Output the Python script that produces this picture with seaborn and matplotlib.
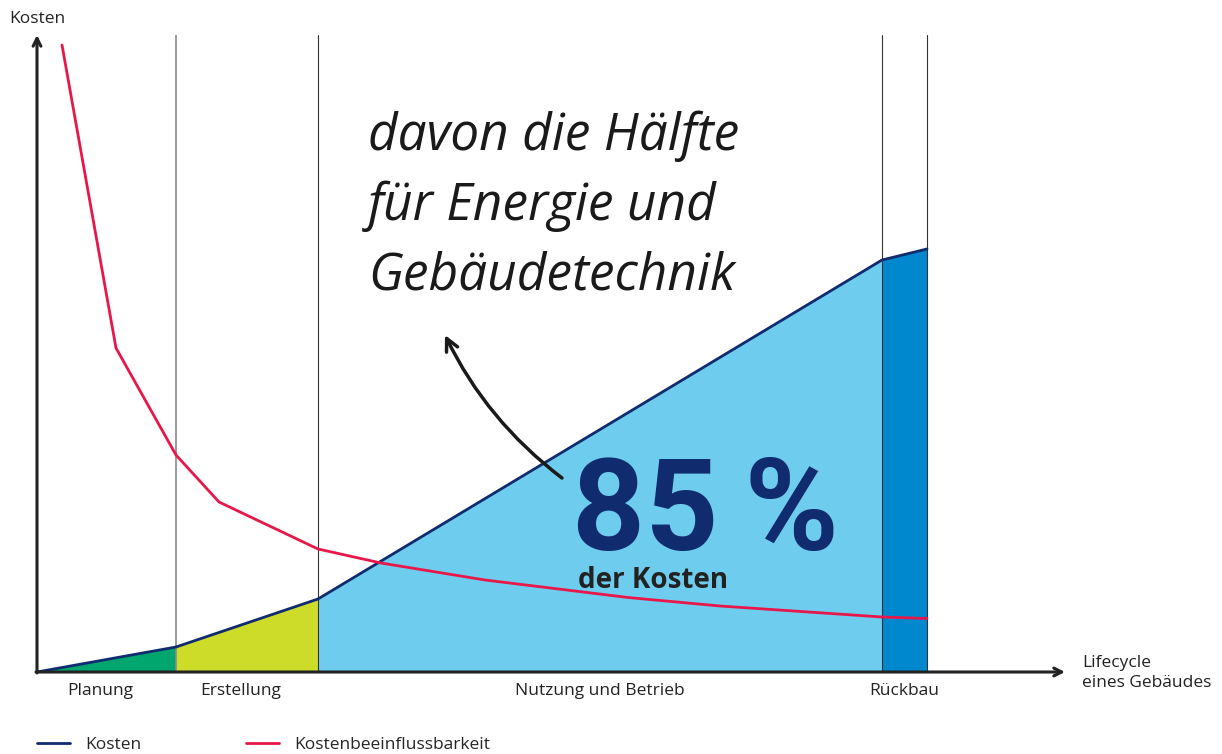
import pandas as pd
import matplotlib.pyplot as plt
import seaborn as sns

# === Daten
phasen = ["Planung", "Erstellung", "Nutzung und Betrieb", "Rückbau"]
phasen_grenzen = [0, 13.9, 28.1, 84.5, 89.0]
kosten = [0, 2.5, 7.3, 41.2, 42.3]
einfluss_x = [2.5, 7.9, 13.9, 18.2, 28.1, 34.4, 44.8, 59.1, 68.3, 84.5, 89.0]
einfluss_y = [62.7, 32.4, 21.7, 17.0, 12.3, 10.9, 9.2, 7.45, 6.6, 5.5, 5.35]

phasen_farben = ["#00a66e", "#cddc29", "#6ecdee", "#0088cf"]
navy = "#112b6f"
rot = "#e8174a"

# === Stil
sns.set_theme(style="white")
plt.rcParams["font.family"] = ["Open Sans", "DejaVu Sans"]
fs = 12.5

fig = plt.figure(figsize=(12.22, 7.54), dpi=100)
W, H = 1222, 754
ax = fig.add_axes([37 / W, (H - 672) / H, (1065 - 37) / W, (672 - 35) / H])
ax.set_xlim(0, 102.8)
ax.set_ylim(0, 63.7)

# Flächen je Phase
for i, farbe in enumerate(phasen_farben):
    ax.fill_between(phasen_grenzen[i:i + 2], kosten[i:i + 2], color=farbe, lw=0, zorder=1)

# Phasengrenzen
for i, gx in enumerate(phasen_grenzen[1:]):
    ax.axvline(gx, color="#8a8a8a" if i == 0 else "#333333", lw=1.2 if i == 0 else 0.8, zorder=2)

# Linien
df = pd.concat([
    pd.DataFrame({"x": phasen_grenzen, "y": kosten, "Reihe": "Kosten"}),
    pd.DataFrame({"x": einfluss_x, "y": einfluss_y, "Reihe": "Kostenbeeinflussbarkeit"}),
])
sns.lineplot(data=df, x="x", y="y", hue="Reihe", palette=[navy, rot], sort=False,
             estimator=None, lw=2, ax=ax, zorder=3)

# Achsen mit Pfeilen
for s in ax.spines.values():
    s.set_visible(False)
pfeil = dict(arrowstyle="->", lw=2.2, color="#222222", shrinkA=0, shrinkB=0, mutation_scale=14)
ax.annotate("", xy=(102.8, 0), xytext=(-0.1, 0), arrowprops=pfeil, zorder=5)
ax.annotate("", xy=(0, 63.7), xytext=(0, -0.1), arrowprops=pfeil, zorder=5)

mitten = [(a + b) / 2 for a, b in zip(phasen_grenzen[:-1], phasen_grenzen[1:])]
mitten[0] -= 0.6
mitten[1] -= 0.6
ax.set_xticks(mitten)
ax.set_xticklabels(phasen, fontsize=fs, color="#222222")
ax.tick_params(axis="x", length=0, pad=8)
ax.set_yticks([])
ax.set_xlabel("")
ax.set_ylabel("")

fig.text(9 / W, 1 - 19 / H, "Kosten", fontsize=fs, color="#222222", va="center", ha="left")
fig.text(1082 / W, 1 - 673 / H, "Lifecycle\neines Gebäudes", fontsize=fs, color="#222222",
         va="center", ha="left", linespacing=1.3)

# Texte im Diagramm
ax.text(66.8, 12.2, "85\u2009%", fontsize=92, fontweight="bold", color=navy, ha="center",
        va="baseline", zorder=4, family="Roboto")
ax.text(54.1, 8.4, "der Kosten", fontsize=20, fontweight="bold", color="#222222",
        ha="left", va="baseline", zorder=4)
for j, zeile in enumerate(["davon die Hälfte", "für Energie und", "Gebäudetechnik"]):
    ax.text(33.1, 52.2 - j * 7.0, zeile, fontsize=37, style="italic",
            fontweight="normal", color="#1a1a1a", ha="left", va="baseline", zorder=4)

ax.annotate("", xy=(40.8, 33.7), xytext=(52.5, 19.4),
            arrowprops=dict(arrowstyle="->", lw=2.5, color="#1a1a1a", mutation_scale=22,
                            connectionstyle="arc3,rad=-0.12", shrinkA=0, shrinkB=0), zorder=4)

# Legende
ax.legend(loc="center left", bbox_to_anchor=(37 / W, 1 - 745 / H), bbox_transform=fig.transFigure,
          ncol=2, frameon=False, fontsize=fs, handlelength=1.9, handletextpad=0.9,
          columnspacing=6.0, borderpad=0, borderaxespad=0)

fig.savefig("out.png", dpi=100)
